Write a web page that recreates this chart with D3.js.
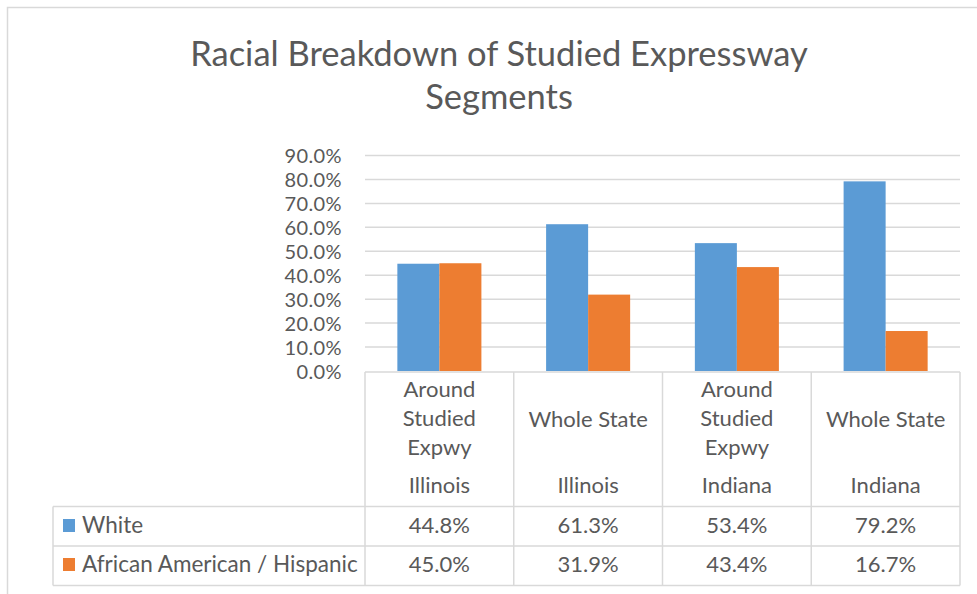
<!DOCTYPE html>
<html>
<head>
<meta charset="utf-8">
<script src="https://cdn.jsdelivr.net/npm/d3@7"></script>
<style>
  body { margin: 0; background: #fff; }
  svg text { font-family: Lato, "Open Sans", sans-serif; fill: #595959; }
</style>
</head>
<body>
<svg id="chart" width="977" height="594"></svg>
<script>
// chart data
const categories = ["Around Studied Expwy|Illinois", "Whole State|Illinois", "Around Studied Expwy|Indiana", "Whole State|Indiana"];
const catLines = [["Around", "Studied", "Expwy"], ["Whole State"], ["Around", "Studied", "Expwy"], ["Whole State"]];
const catGroups = ["Illinois", "Illinois", "Indiana", "Indiana"];
const seriesNames = ["White", "African American / Hispanic"];
const white = [0.448, 0.613, 0.534, 0.792];
const afAmHisp = [0.450, 0.319, 0.434, 0.167];
const yTicks = [0, 0.1, 0.2, 0.3, 0.4, 0.5, 0.6, 0.7, 0.8, 0.9];
const colors = ["#5B9BD5", "#ED7D31"];

const svg = d3.select("#chart");
const seriesVals = [white, afAmHisp];

// outer chart border
svg.append("rect")
    .attr("x", 7.5).attr("y", 7.5)
    .attr("width", 1000).attr("height", 1000)
    .attr("fill", "none")
    .attr("stroke", "#d9d9d9")
    .attr("stroke-width", 1.5);

// title
svg.append("text")
    .attr("x", 499).attr("y", 66)
    .attr("text-anchor", "middle")
    .style("font-size", "34.5px")
    .text("Racial Breakdown of Studied Expressway");
svg.append("text")
    .attr("x", 499).attr("y", 109)
    .attr("text-anchor", "middle")
    .style("font-size", "34.5px")
    .text("Segments");

// scales
let x = d3.scaleBand().domain(categories).range([365, 960]);
let xSub = d3.scaleBand().domain(seriesNames).range([0, x.bandwidth()]).paddingOuter(0.77);
let y = d3.scaleLinear().domain([0, 0.9]).range([371, 155.5]);

// gridlines
svg.append("g")
    .selectAll("line")
    .data(yTicks.slice(1))
    .enter()
    .append("line")
    .attr("x1", 365).attr("x2", 960)
    .attr("y1", d => y(d)).attr("y2", d => y(d))
    .attr("stroke", "#d9d9d9")
    .attr("stroke-width", 1.5);

// y axis labels
let yAxis = d3.axisLeft(y).tickValues(yTicks).tickFormat(d3.format(".1%")).tickSize(0).tickPadding(0);
let gy = svg.append("g").attr("transform", "translate(342,0)").call(yAxis);
gy.select(".domain").remove();
gy.selectAll("text")
    .attr("dy", "0.36em")
    .style("font-size", "20px")
    .style("letter-spacing", "0.4px")
    .style("font-family", "Lato, 'Open Sans', sans-serif")
    .attr("fill", "#595959");

// bars
seriesNames.forEach((s, i) => {
    svg.append("g")
        .selectAll("rect")
        .data(seriesVals[i])
        .enter()
        .append("rect")
        .attr("x", (d, j) => x(categories[j]) + xSub(s))
        .attr("y", d => y(d))
        .attr("width", xSub.bandwidth())
        .attr("height", d => y(0) - y(d))
        .attr("fill", colors[i]);
});

// data table
let tableTop = y(0) + 1, headBottom = 506.5, row1Bottom = 546, row2Bottom = 585.5, tableLeft = 53;
let tbl = svg.append("g").attr("stroke", "#d9d9d9").attr("stroke-width", 1.5);
tbl.append("line").attr("x1", 365).attr("x2", 960).attr("y1", tableTop).attr("y2", tableTop);
[headBottom, row1Bottom, row2Bottom].forEach(yy => {
    tbl.append("line").attr("x1", tableLeft).attr("x2", 960).attr("y1", yy).attr("y2", yy);
});
tbl.append("line").attr("x1", tableLeft).attr("x2", tableLeft).attr("y1", headBottom).attr("y2", row2Bottom);
categories.concat(["end"]).forEach((c, j) => {
    let xx = j < categories.length ? x(c) : 960;
    tbl.append("line").attr("x1", xx).attr("x2", xx).attr("y1", tableTop).attr("y2", row2Bottom);
});

// category header labels
categories.forEach((c, j) => {
    let cx = x(c) + x.bandwidth() / 2;
    let lines = catLines[j];
    let baseY = lines.length === 3 ? 397 : 427;
    lines.forEach((t, k) => {
        svg.append("text")
            .attr("x", cx).attr("y", baseY + k * 29)
            .attr("text-anchor", "middle")
            .style("font-size", "22px")
            .text(t);
    });
    svg.append("text")
        .attr("x", cx).attr("y", 493)
        .attr("text-anchor", "middle")
        .style("font-size", "22px")
        .text(catGroups[j]);
});

// rows: legend key + values
let rowBase = [533, 572];
seriesNames.forEach((s, i) => {
    svg.append("rect")
        .attr("x", 63).attr("y", rowBase[i] - 14)
        .attr("width", 12).attr("height", 13)
        .attr("fill", colors[i]);
    svg.append("text")
        .attr("x", 82).attr("y", rowBase[i])
        .style("font-size", "22.5px")
        .text(s);
    seriesVals[i].forEach((v, j) => {
        svg.append("text")
            .attr("x", x(categories[j]) + x.bandwidth() / 2)
            .attr("y", rowBase[i])
            .attr("text-anchor", "middle")
            .style("font-size", "22px")
            .text(d3.format(".1%")(v));
    });
});
</script>
</body>
</html>
